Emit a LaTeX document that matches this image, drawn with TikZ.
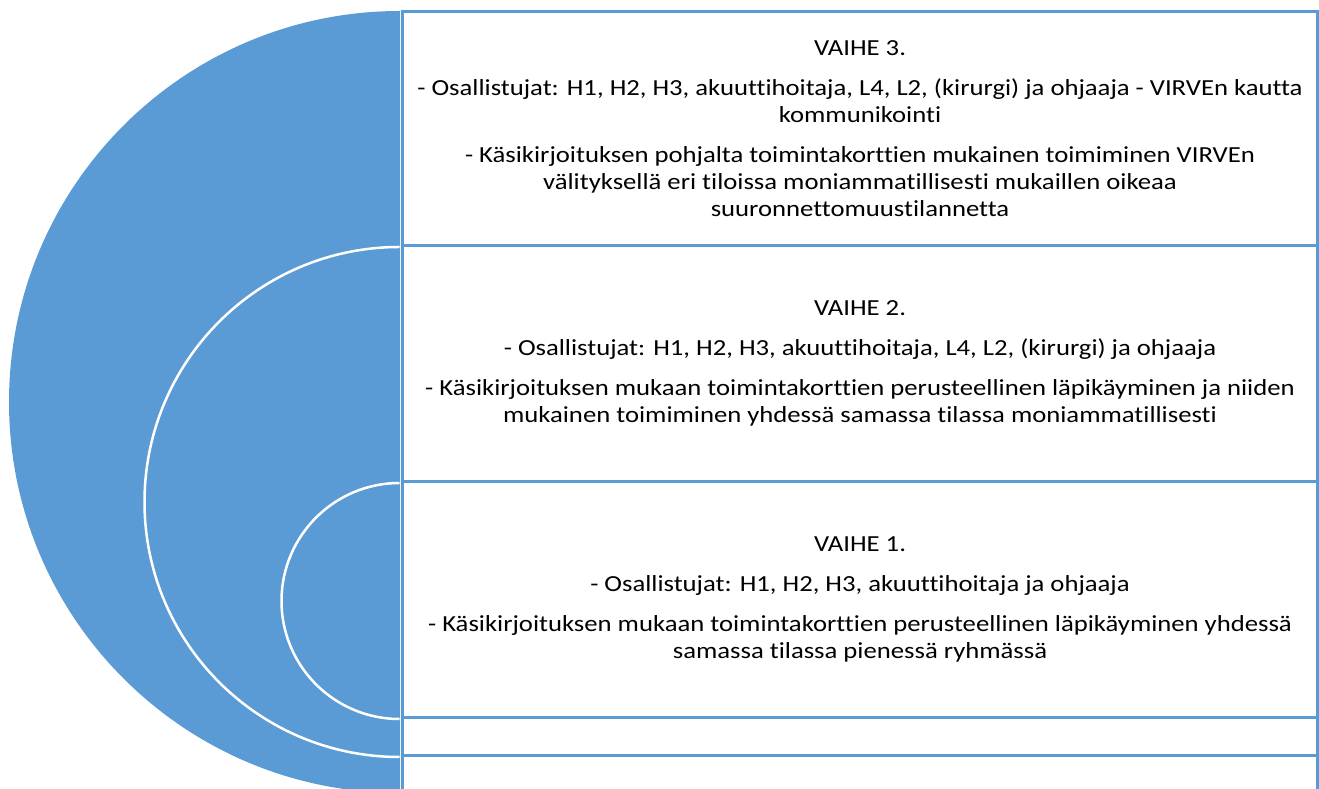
\documentclass[tikz,border=0pt]{standalone}
\usepackage{fontspec}
\setmainfont[FakeStretch=1.16,Ligatures=NoCommon]{Carlito}
\usepackage{xcolor}
\definecolor{vaihesininen}{RGB}{91,155,213}

\begin{document}
\begin{tikzpicture}[x=1pt,y=1pt]
\tikzstyle{vaihelaatikko}=[draw=vaihesininen, line width=3pt, fill=white, inner sep=0pt, minimum width=915pt, anchor=north west]
\tikzstyle{vaiheteksti}=[align=center, font=\fontsize{23}{27}\selectfont, inner sep=0pt]
\useasboundingbox (0,0) rectangle (1319,789);
\clip (0,0) rectangle (1319,789);
% puoliympyrat
\fill [vaihesininen] (400,778) arc (90:270:391) -- cycle;
% laatikot
\node [vaihelaatikko, minimum height=234pt] (l3) at (401,779) {};
\node [vaihelaatikko, minimum height=236pt] (l2) at (401,545) {};
\node [vaihelaatikko, minimum height=236pt] (l1) at (401,309) {};
\node [vaihelaatikko, minimum height=38pt] (l0) at (401,73) {};
\node [vaihelaatikko, minimum height=60pt] (lx) at (401,35) {};
\draw [white, line width=2.5pt] (l3.south west) ++(-1.5,0) arc (90:270:255);
\draw [white, line width=2.5pt] (l2.south west) ++(-1.5,0) arc (90:270:118);
% tekstit
\node [vaiheteksti] (t3) at (l3.center) {VAIHE 3.\\[13pt]
- Osallistujat: H1, H2, H3, akuuttihoitaja, L4, L2, (kirurgi) ja ohjaaja - VIRVEn kautta\\
kommunikointi\\[13pt]
- Käsikirjoituksen pohjalta toimintakorttien mukainen toimiminen VIRVEn\\
välityksellä eri tiloissa moniammatillisesti mukaillen oikeaa\\
suuronnettomuustilannetta};
\node [vaiheteksti] (t2) at (l2.center) {VAIHE 2.\\[13pt]
- Osallistujat: H1, H2, H3, akuuttihoitaja, L4, L2, (kirurgi) ja ohjaaja\\[13pt]
- Käsikirjoituksen mukaan toimintakorttien perusteellinen läpikäyminen ja niiden\\
mukainen toimiminen yhdessä samassa tilassa moniammatillisesti};
\node [vaiheteksti] (t1) at (l1.center) {VAIHE 1.\\[13pt]
- Osallistujat: H1, H2, H3, akuuttihoitaja ja ohjaaja\\[13pt]
- Käsikirjoituksen mukaan toimintakorttien perusteellinen läpikäyminen yhdessä\\
samassa tilassa pienessä ryhmässä};
\end{tikzpicture}
\end{document}
